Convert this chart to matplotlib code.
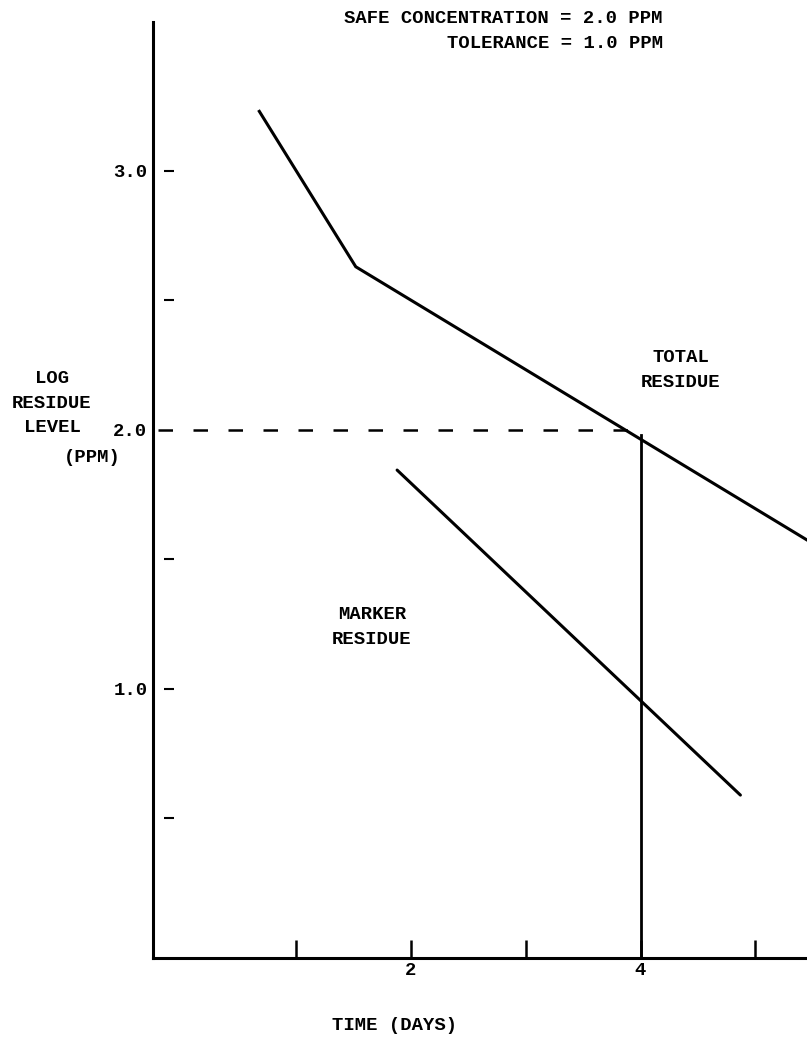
import numpy as np
import matplotlib
matplotlib.use("Agg")
import matplotlib.pyplot as plt

# residue depletion curves (log ppm against days)
total_days = [0.68, 1.52, 5.45]
total_log = [3.23, 2.63, 1.575]
marker_days = [1.88, 4.87]
marker_log = [1.845, 0.59]

safe_level = 2.0   # log residue at safe concentration
safe_time = 4.0    # withdrawal time in days

x_ticks = [1, 2, 3, 4, 5]
x_tick_labels = ["", "2", "", "4", ""]
y_ticks = [1.0, 2.0, 3.0]
y_tick_labels = ["1.0", "2.0", "3.0"]
y_dashes = [0.5, 1.0, 1.5, 2.5, 3.0]

font = "Liberation Mono"
fs = 13.6
ls = 1.6
plt.rcParams['font.family'] = [font, 'DejaVu Sans']
plt.rcParams['font.weight'] = 'bold'

W, H = 807, 1037
fig = plt.figure(figsize=(W / 100, H / 100), dpi=100)
# axes box in pixel terms: left spine at 153, x axis at 958, top at 22
ax = fig.add_axes([153 / W, 1 - 958 / H, 1 - 153 / W, (958 - 22) / H])
ax.set_xlim(-0.246, 5.45)
ax.set_ylim(-0.039, 3.575)

for s in ["top", "right"]:
    ax.spines[s].set_visible(False)
for s in ["left", "bottom"]:
    ax.spines[s].set_linewidth(2.2)
    ax.spines[s].set_color("black")

ax.plot(total_days, total_log, color="black", lw=2.2, solid_joinstyle="miter", clip_on=False)
ax.plot(marker_days, marker_log, color="black", lw=2.2, solid_capstyle="round")

# safe concentration reference lines
ax.plot([-0.2, safe_time], [safe_level, safe_level], color="black", lw=1.8,
        dashes=(5.8, 8.2))
ax.plot([safe_time, safe_time], [ax.get_ylim()[0], safe_level - 0.02], color="black", lw=2.0)

# small dash ticks typed just right of the y axis
ax.plot(np.full(len(y_dashes), -0.11), y_dashes, ls="none", marker="_",
        ms=7, mew=1.5, color="black")

ax.set_xticks(x_ticks)
ax.set_xticklabels(x_tick_labels, fontsize=fs)
ax.tick_params(axis="x", direction="in", length=13, width=1.8, pad=3)
ax.set_yticks(y_ticks)
ax.set_yticklabels(y_tick_labels, fontsize=fs)
ax.tick_params(axis="y", length=0, pad=4)

ax.text(4.35, 2.23, "TOTAL\nRESIDUE", ha="center", va="center",
        multialignment="center", fontsize=fs, linespacing=ls)
ax.text(1.66, 1.24, "MARKER\nRESIDUE", ha="center", va="center",
        multialignment="center", fontsize=fs, linespacing=ls)

fig.text(663 / W, 1 - 31 / H, "SAFE CONCENTRATION = 2.0 PPM\nTOLERANCE = 1.0 PPM",
         ha="right", va="center", multialignment="right", fontsize=fs, linespacing=ls)
fig.text(52 / W, 1 - 403 / H, "LOG\nRESIDUE\nLEVEL", ha="center", va="center",
         multialignment="center", fontsize=fs, linespacing=ls)
fig.text(92 / W, 1 - 457 / H, "(PPM)", ha="center", va="center", fontsize=fs)
fig.text(395 / W, 1 - 1025 / H, "TIME (DAYS)", ha="center", va="center", fontsize=fs)

fig.savefig("out.png", dpi=100)
